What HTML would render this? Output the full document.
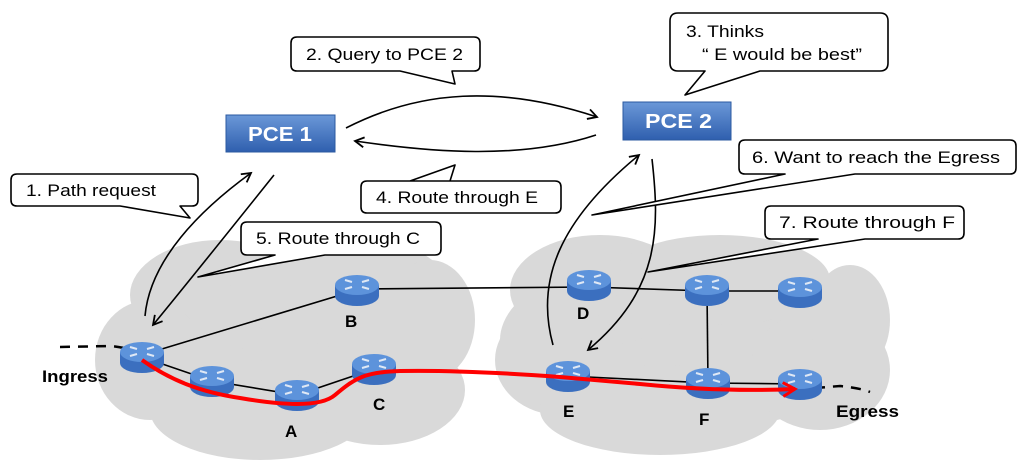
<!DOCTYPE html>
<html><head><meta charset="utf-8"><style>
html,body{margin:0;padding:0;background:#fff;}
svg{display:block;font-family:"Liberation Sans",Arial,sans-serif;}
</style></head><body>
<svg width="1024" height="468" viewBox="0 0 1024 468" xmlns="http://www.w3.org/2000/svg">
<defs>
<linearGradient id="pce" x1="0" y1="0" x2="0" y2="1"><stop offset="0" stop-color="#6b98d8"/><stop offset="1" stop-color="#2f5fae"/></linearGradient>
<marker id="ah" markerWidth="12" markerHeight="12" refX="10" refY="6" orient="auto" markerUnits="userSpaceOnUse"><path d="M1,1 L10,6 L1,11" fill="none" stroke="#000" stroke-width="1.8"/></marker>
<marker id="rh" markerWidth="16" markerHeight="16" refX="13" refY="8" orient="auto" markerUnits="userSpaceOnUse"><path d="M1,1 L13,8 L1,15" fill="none" stroke="#f00" stroke-width="3"/></marker>
<g id="rt">
<path d="M-22,-5 L-22,6 A22,10 0 0 0 22,6 L22,-5 Z" fill="#3b6fbf"/>
<ellipse cx="0" cy="-5" rx="22" ry="10" fill="#5d93db"/>
<g stroke="#dfe8f5" stroke-width="2">
<line x1="-12" y1="-10" x2="-5" y2="-8"/><line x1="5" y1="-3" x2="12" y2="-1"/>
<line x1="12" y1="-10" x2="5" y2="-8"/><line x1="-5" y1="-3" x2="-12" y2="-1"/>
</g></g>
</defs>

<g fill="#d9d9d9">
<ellipse cx="285" cy="345" rx="170" ry="90"/>
<ellipse cx="220" cy="295" rx="90" ry="55"/>
<ellipse cx="340" cy="290" rx="110" ry="55"/>
<ellipse cx="150" cy="360" rx="55" ry="60"/>
<ellipse cx="260" cy="410" rx="110" ry="50"/>
<ellipse cx="380" cy="390" rx="85" ry="55"/>
<ellipse cx="430" cy="320" rx="45" ry="60"/>
<ellipse cx="690" cy="340" rx="190" ry="90"/>
<ellipse cx="600" cy="290" rx="90" ry="55"/>
<ellipse cx="720" cy="280" rx="110" ry="45"/>
<ellipse cx="560" cy="360" rx="65" ry="55"/>
<ellipse cx="660" cy="410" rx="120" ry="45"/>
<ellipse cx="820" cy="370" rx="70" ry="60"/>
<ellipse cx="850" cy="320" rx="40" ry="55"/>
</g>

<g stroke="#000" stroke-width="1.6" fill="none">
<line x1="142" y1="355" x2="357" y2="290"/>
<polyline points="142,357 212,381 297,395 374,369"/>
<line x1="357" y1="289" x2="589" y2="287"/>
<line x1="589" y1="287" x2="707" y2="291"/>
<line x1="707" y1="291" x2="800" y2="291"/>
<line x1="707" y1="291" x2="708" y2="383"/>
<polyline points="568,376 708,383 800,384"/>
</g>
<g stroke="#000" stroke-width="2.5" stroke-dasharray="10,8" fill="none">
<path d="M60,347 L110,346 Q125,347 135,352"/>
<path d="M815,388 L840,386 Q860,388 870,392"/>
</g>

<use href="#rt" x="142" y="357"/>
<use href="#rt" x="212" y="381"/>
<use href="#rt" x="297" y="395"/>
<use href="#rt" x="357" y="290"/>
<use href="#rt" x="374" y="369"/>
<use href="#rt" x="589" y="285"/>
<use href="#rt" x="707" y="290"/>
<use href="#rt" x="800" y="292"/>
<use href="#rt" x="568" y="376"/>
<use href="#rt" x="708" y="383"/>
<use href="#rt" x="800" y="384"/>

<path d="M142,360 C170,380 200,392 240,398 C280,405 320,408 335,395 C355,378 365,372 400,371 C460,370 520,374 560,377 L640,384 C700,390 750,391 795,389" stroke="#f00" stroke-width="4" fill="none" marker-end="url(#rh)"/>

<g font-weight="bold" font-size="17" fill="#000">
<text x="42" y="382" textLength="66" lengthAdjust="spacingAndGlyphs">Ingress</text>
<text x="345" y="327">B</text>
<text x="285" y="437">A</text>
<text x="373" y="410">C</text>
<text x="577" y="319">D</text>
<text x="563" y="417">E</text>
<text x="699" y="425">F</text>
<text x="836" y="417" textLength="63" lengthAdjust="spacingAndGlyphs">Egress</text>
</g>

<rect x="226" y="115" width="109" height="37" fill="url(#pce)" stroke="#2b5aa0"/>
<text x="248" y="141" font-size="20" font-weight="bold" fill="#fff" textLength="64" lengthAdjust="spacingAndGlyphs">PCE 1</text>
<rect x="623" y="102" width="108" height="38" fill="url(#pce)" stroke="#2b5aa0"/>
<text x="645" y="128" font-size="20" font-weight="bold" fill="#fff" textLength="67" lengthAdjust="spacingAndGlyphs">PCE 2</text>

<g stroke="#000" stroke-width="1.6" fill="none">
<path d="M145,316 C150,260 200,210 251,173" marker-end="url(#ah)"/>
<path d="M274,175 C230,230 190,280 153,325" marker-end="url(#ah)"/>
<path d="M346,128 C420,90 500,85 597,117" marker-end="url(#ah)"/>
<path d="M596,135 C520,160 430,152 355,141" marker-end="url(#ah)"/>
<path d="M553,345 C535,280 560,220 639,155" marker-end="url(#ah)"/>
<path d="M652,159 C660,230 660,290 588,350" marker-end="url(#ah)"/>
</g>

<g fill="#fff" stroke="#000" stroke-width="1.6" stroke-linejoin="round">
<path d="M17,174 H192 Q198,174 198,180 V200 Q198,206 192,206 H180 L190,218 L120,206 H17 Q11,206 11,200 V180 Q11,174 17,174 Z"/>
<path d="M297,37 H474 Q480,37 480,43 V65 Q480,71 474,71 H452 L455,84 L400,71 H297 Q291,71 291,65 V43 Q291,37 297,37 Z"/>
<path d="M678,13 H880 Q888,13 888,21 V63 Q888,71 880,71 H760 L685,95 L705,71 H678 Q670,71 670,63 V21 Q670,13 678,13 Z"/>
<path d="M367,181 H555 Q561,181 561,187 V207 Q561,213 555,213 H367 Q361,213 361,207 V187 Q361,181 367,181 H410 L455,165 L450,181 Z"/>
<path d="M247,222 H435 Q441,222 441,228 V249 Q441,255 435,255 H325 L198,277 L275,255 H247 Q241,255 241,249 V228 Q241,222 247,222 Z"/>
<path d="M745,140 H1010 Q1016,140 1016,146 V168 Q1016,174 1010,174 H855 L592,215 L785,174 H745 Q739,174 739,168 V146 Q739,140 745,140 Z"/>
<path d="M771,206 H958 Q964,206 964,212 V233 Q964,239 958,239 H865 L648,272 L818,239 H771 Q765,239 765,233 V212 Q765,206 771,206 Z"/>
</g>
<g font-size="17" fill="#000" lengthAdjust="spacingAndGlyphs">
<text x="26" y="196" textLength="130" lengthAdjust="spacingAndGlyphs">1. Path request</text>
<text x="306" y="60" textLength="157" lengthAdjust="spacingAndGlyphs">2. Query to PCE 2</text>
<text x="686" y="37" textLength="78" lengthAdjust="spacingAndGlyphs">3. Thinks</text>
<text x="702" y="60" textLength="160" lengthAdjust="spacingAndGlyphs">“ E would be best”</text>
<text x="376" y="203" textLength="162" lengthAdjust="spacingAndGlyphs">4. Route through E</text>
<text x="256" y="244" textLength="164" lengthAdjust="spacingAndGlyphs">5. Route through C</text>
<text x="752" y="163" textLength="248" lengthAdjust="spacingAndGlyphs">6. Want to  reach the Egress</text>
<text x="779" y="228" textLength="176" lengthAdjust="spacingAndGlyphs">7. Route through F</text>
</g>
</svg>
</body></html>
